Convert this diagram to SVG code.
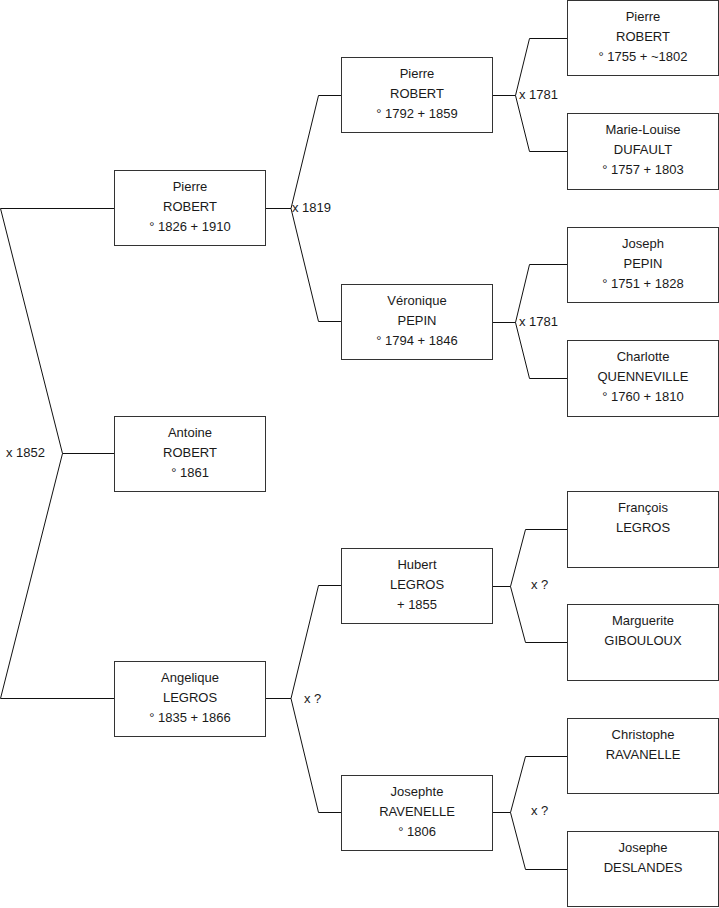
<svg xmlns="http://www.w3.org/2000/svg" width="719" height="908" viewBox="0 0 719 908">
<style>
rect.box{fill:#fff;stroke:#333;stroke-width:1}
.c path{fill:none;stroke:#111;stroke-width:1}
text{font-family:"Liberation Sans",Arial,sans-serif;font-size:13px;fill:#1a1a1a}
.n text{text-anchor:middle}
</style>
<rect width="719" height="908" fill="#fff"/>
<g class="c" id="connectors">
<path d="M0.5,208.5 H114.5 M0.5,208.5 L62.5,453.5 L0.5,698.5 H114.5 M62.5,453.5 H114.5"/>
<path d="M265.5,208.5 H291 M341.5,95.5 H318.5 L291,208.5 L318.5,321.5 H341.5"/>
<path d="M265.5,698.5 H291 M341.5,585.5 H318.5 L291,698.5 L318.5,812.5 H341.5"/>
<path d="M492.5,95.5 H515.5 M567.5,38.5 H529.5 L515.5,95.5 L529.5,151.5 H567.5"/>
<path d="M492.5,322.5 H515.5 M567.5,264.5 H529.5 L515.5,322.5 L529.5,378.5 H567.5"/>
<path d="M492.5,586.5 H510.5 M567.5,529.5 H525.5 L510.5,586.5 L525.5,642.5 H567.5"/>
<path d="M492.5,812.5 H510.5 M567.5,756.5 H525.5 L510.5,812.5 L525.5,869.5 H567.5"/>
</g>
<g id="labels">
<text x="6" y="457">x 1852</text>
<text x="292" y="212">x 1819</text>
<text x="304" y="703">x ?</text>
<text x="519" y="99">x 1781</text>
<text x="519" y="326">x 1781</text>
<text x="531" y="589">x ?</text>
<text x="531" y="815">x ?</text>
</g>
<g class="n" id="n-pierre-1826">
<rect class="box" x="114.5" y="170.5" width="151" height="75"/>
<text x="190" y="191">Pierre</text><text x="190" y="211">ROBERT</text><text x="190" y="231">° 1826 + 1910</text>
</g>
<g class="n" id="n-antoine">
<rect class="box" x="114.5" y="416.5" width="151" height="75"/>
<text x="190" y="437">Antoine</text><text x="190" y="457">ROBERT</text><text x="190" y="477">° 1861</text>
</g>
<g class="n" id="n-angelique">
<rect class="box" x="114.5" y="661.5" width="151" height="75"/>
<text x="190" y="682">Angelique</text><text x="190" y="702">LEGROS</text><text x="190" y="722">° 1835 + 1866</text>
</g>
<g class="n" id="n-pierre-1792">
<rect class="box" x="341.5" y="57.5" width="151" height="75"/>
<text x="417" y="78">Pierre</text><text x="417" y="98">ROBERT</text><text x="417" y="118">° 1792 + 1859</text>
</g>
<g class="n" id="n-veronique">
<rect class="box" x="341.5" y="284.5" width="151" height="75"/>
<text x="417" y="305">Véronique</text><text x="417" y="325">PEPIN</text><text x="417" y="345">° 1794 + 1846</text>
</g>
<g class="n" id="n-hubert">
<rect class="box" x="341.5" y="548.5" width="151" height="75"/>
<text x="417" y="569">Hubert</text><text x="417" y="589">LEGROS</text><text x="417" y="609">+ 1855</text>
</g>
<g class="n" id="n-josephte">
<rect class="box" x="341.5" y="775.5" width="151" height="75"/>
<text x="417" y="796">Josephte</text><text x="417" y="816">RAVENELLE</text><text x="417" y="836">° 1806</text>
</g>
<g class="n" id="n-pierre-1755">
<rect class="box" x="567.5" y="0.5" width="151" height="75"/>
<text x="643" y="21">Pierre</text><text x="643" y="41">ROBERT</text><text x="643" y="61">° 1755 + ~1802</text>
</g>
<g class="n" id="n-marie-louise">
<rect class="box" x="567.5" y="113.5" width="151" height="76"/>
<text x="643" y="134">Marie-Louise</text><text x="643" y="154">DUFAULT</text><text x="643" y="174">° 1757 + 1803</text>
</g>
<g class="n" id="n-joseph">
<rect class="box" x="567.5" y="227.5" width="151" height="75"/>
<text x="643" y="248">Joseph</text><text x="643" y="268">PEPIN</text><text x="643" y="288">° 1751 + 1828</text>
</g>
<g class="n" id="n-charlotte">
<rect class="box" x="567.5" y="340.5" width="151" height="76"/>
<text x="643" y="361">Charlotte</text><text x="643" y="381">QUENNEVILLE</text><text x="643" y="401">° 1760 + 1810</text>
</g>
<g class="n" id="n-francois">
<rect class="box" x="567.5" y="491.5" width="151" height="76"/>
<text x="643" y="512">François</text><text x="643" y="532">LEGROS</text>
</g>
<g class="n" id="n-marguerite">
<rect class="box" x="567.5" y="604.5" width="151" height="76"/>
<text x="643" y="625">Marguerite</text><text x="643" y="645">GIBOULOUX</text>
</g>
<g class="n" id="n-christophe">
<rect class="box" x="567.5" y="718.5" width="151" height="75"/>
<text x="643" y="739">Christophe</text><text x="643" y="759">RAVANELLE</text>
</g>
<g class="n" id="n-josephe">
<rect class="box" x="567.5" y="831.5" width="151" height="75"/>
<text x="643" y="852">Josephe</text><text x="643" y="872">DESLANDES</text>
</g>
</svg>
